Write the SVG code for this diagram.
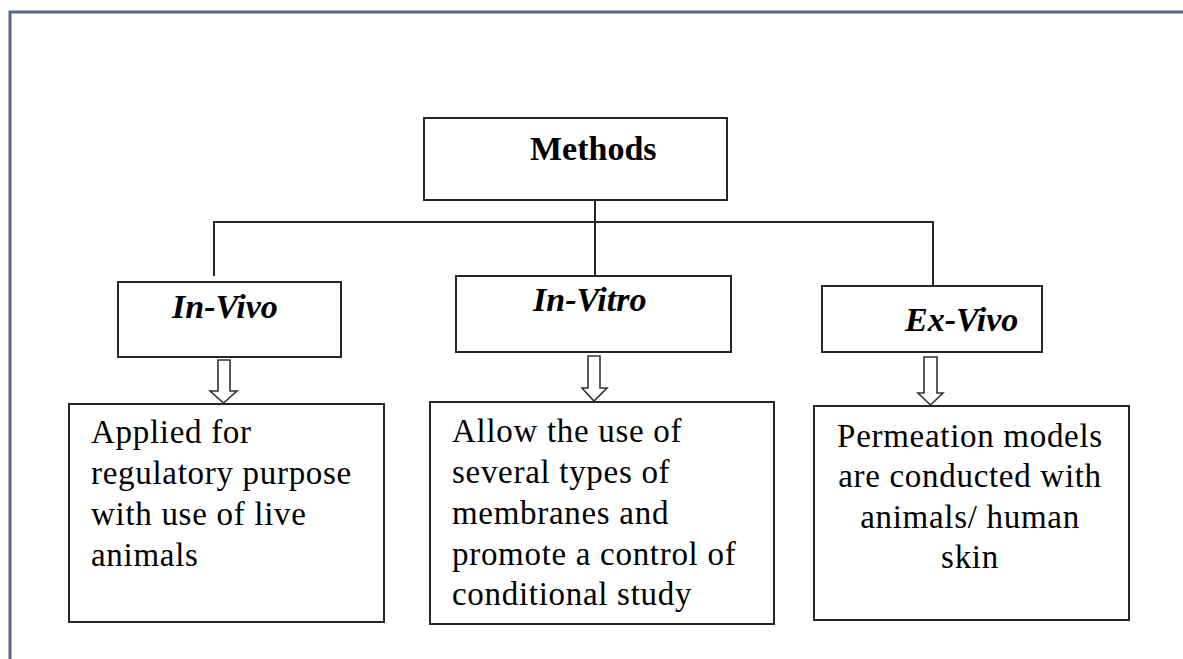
<svg xmlns="http://www.w3.org/2000/svg" width="1183" height="659" viewBox="0 0 1183 659">
  <style>
    .box { fill: #ffffff; stroke: #262626; stroke-width: 2; }
    .conn { fill: none; stroke: #262626; stroke-width: 2; }
    .barrow { fill: #ffffff; stroke: #333333; stroke-width: 1.6; stroke-linejoin: miter; }
    .head { font-family: "Liberation Serif", "Times New Roman", serif; font-size: 34px; font-weight: bold; fill: #000000; }
    .cat { font-family: "Liberation Serif", "Times New Roman", serif; font-size: 34px; font-weight: bold; font-style: italic; fill: #000000; }
    .body { font-family: "Liberation Serif", "Times New Roman", serif; font-size: 33px; letter-spacing: 0.7px; fill: #000000; }
  </style>
  <rect x="0" y="0" width="1183" height="659" fill="#ffffff"/>
  <path d="M10,659 L10,12 L1183,12" fill="none" stroke="#566683" stroke-width="3"/>

  <g id="connectors">
    <line class="conn" x1="595" y1="200" x2="595" y2="276"/>
    <polyline class="conn" points="214,276 214,222 933,222 933,286"/>
    <path class="barrow" d="M218,360 H230 V391 H237 L223.5,403 L210,391 H218 Z"/>
    <path class="barrow" d="M588,356 H600 V388 H607 L594,401 L582,388 H588 Z"/>
    <path class="barrow" d="M924,357 H937 V393 H943 L930.5,405 L918,393 H924 Z"/>
  </g>

  <g id="methods">
    <rect class="box" x="424" y="118" width="303" height="82"/>
    <text class="head" x="530" y="160">Methods</text>
  </g>

  <g id="in-vivo">
    <rect class="box" x="118" y="282" width="223" height="75"/>
    <text class="cat" x="172" y="318">In-Vivo</text>
  </g>

  <g id="in-vitro">
    <rect class="box" x="456" y="276" width="275" height="76"/>
    <text class="cat" x="533" y="311">In-Vitro</text>
  </g>

  <g id="ex-vivo">
    <rect class="box" x="822" y="286" width="220" height="66"/>
    <text class="cat" x="905" y="331">Ex-Vivo</text>
  </g>

  <g id="in-vivo-desc">
    <rect class="box" x="69" y="404" width="315" height="218"/>
    <text class="body" x="91" y="443">Applied for</text>
    <text class="body" x="91" y="484">regulatory purpose</text>
    <text class="body" x="91" y="525">with use of live</text>
    <text class="body" x="91" y="566">animals</text>
  </g>

  <g id="in-vitro-desc">
    <rect class="box" x="430" y="402" width="344" height="222"/>
    <text class="body" x="452" y="442">Allow the use of</text>
    <text class="body" x="452" y="483">several types of</text>
    <text class="body" x="452" y="524">membranes and</text>
    <text class="body" x="452" y="565">promote a control of</text>
    <text class="body" x="452" y="605">conditional study</text>
  </g>

  <g id="ex-vivo-desc">
    <rect class="box" x="814" y="406" width="315" height="214"/>
    <text class="body" x="970" y="447" text-anchor="middle">Permeation models</text>
    <text class="body" x="970" y="487" text-anchor="middle">are conducted with</text>
    <text class="body" x="970" y="528" text-anchor="middle">animals/ human</text>
    <text class="body" x="970" y="568" text-anchor="middle">skin</text>
  </g>
</svg>
